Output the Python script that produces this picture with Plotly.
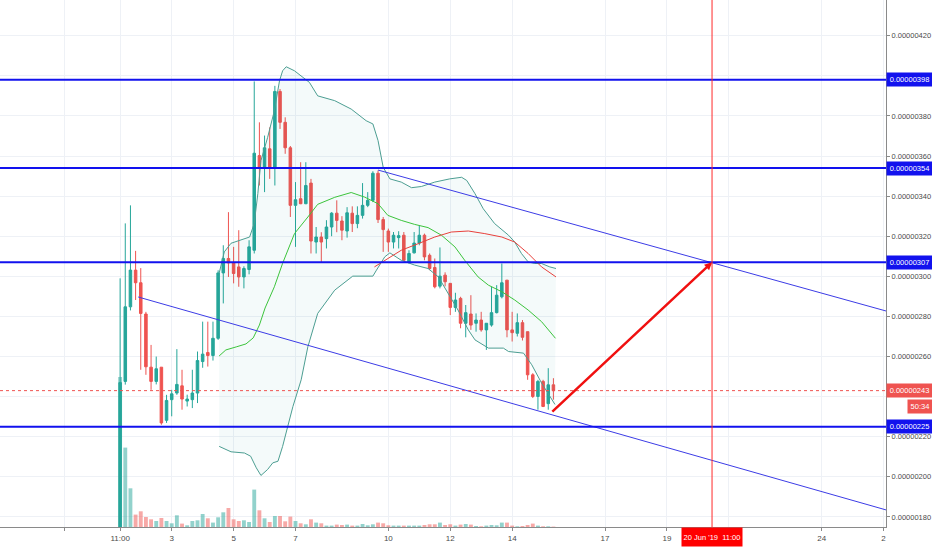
import plotly.graph_objects as go
import pandas as pd

# 4h candles, prices read in units of 1e-8
t0 = pd.Timestamp("2019-06-01 08:00")
sc = 1e-8

opens = [120, 247.6, 284.8, 303.1, 296.8, 281.2, 254.7, 247.6, 254.7, 228.2,
         238.5, 241.8, 245.4, 237.8, 238.5, 241.8, 257.5, 262, 260.5, 269.1,
         301.7, 308.9, 306.7, 304.7, 299.7, 303.4, 313, 360.2, 354.1, 363.6,
         354.1, 392.2, 376.8, 364.1, 335.4, 338.7, 336.2, 346.5, 317.1, 319.6,
         318.8, 324.6, 331.5, 327.6, 322.6, 331.5, 326.3, 330.4, 335.4, 337.9,
         351.4, 328.3, 322.6, 317.1, 319.3, 320.5, 307.2, 311.7, 316.6, 320.5,
         310.5, 304.4, 295.1, 300.6, 296.5, 284.5, 289, 276.6, 281.2, 276.6,
         278.2, 273.3, 275.7, 281.9, 289.8, 298.1, 273.3, 271.6, 276.9, 272.4,
         250.9, 240.1, 247.6, 236.5, 245.9]
highs = [299, 326.4, 335.4, 312.7, 304.1, 282.3, 265.8, 260, 254.7, 240.9,
         243.4, 263.7, 253.4, 241, 253.4, 262.5, 277.4, 277.4, 277.4, 303,
         315.5, 332, 314.7, 323, 305, 318, 397.2, 376.8, 370.2, 374.3,
         395, 393.4, 379.3, 365, 347, 356.9, 356.9, 348.6, 324.6, 322,
         328, 332, 337.9, 330, 334.5, 334.9, 334.9, 346.5, 342, 352.4,
         352.8, 329.6, 323.8, 322.1, 322.5, 322.1, 313, 322.1, 325.4, 321.3,
         311.4, 308.9, 314.4, 302, 296.5, 291.8, 289.8, 285.7, 290.6, 281.5,
         282.3, 276.6, 294.8, 295.6, 306.4, 298.1, 282.3, 281.5, 278.2, 272.4,
         251.7, 248.4, 248.4, 254.2, 249.2]
lows = [120, 246, 283, 288.2, 253.4, 250.9, 243.4, 246.1, 226, 226.9,
        230.2, 240.9, 233.5, 235.1, 234.3, 236.8, 254.4, 255, 258, 268.3,
        286.5, 299.7, 296.5, 294.8, 294, 301, 311.4, 345.3, 342, 348.6,
        345.3, 373.5, 361.1, 329.6, 314.7, 336, 336, 311.4, 311.4, 306.7,
        313.9, 320, 322, 318, 319.3, 322.1, 324, 328.8, 334.5, 337,
        326.6, 312.2, 312.2, 313.9, 313.9, 307.7, 306.4, 311.4, 315.5, 308,
        303.1, 294, 294, 295, 280.7, 282.3, 274.1, 269.6, 273.3, 272.4,
        272.4, 263.3, 274.9, 281.5, 289, 269.6, 267.5, 270, 268, 248.4,
        239.3, 233.5, 234.8, 233.5, 238.5]
closes = [247, 284.8, 303.1, 296.8, 281.5, 254.9, 247.6, 253.9, 226.9, 238.1,
          241.4, 246.1, 238.8, 238.8, 241.8, 258, 261.2, 260.5, 269.1, 301.7,
          308.9, 306.7, 301.4, 299.7, 303.9, 314.7, 361.4, 354.4, 364.1, 354.1,
          392.2, 376.8, 364.1, 335.4, 338.2, 336.2, 345.3, 317.6, 319.6, 317.1,
          324.6, 331.5, 327.9, 323, 331.7, 326.3, 330.4, 335.4, 337.9, 351.4,
          328.3, 323.3, 317.1, 320.5, 320.3, 308, 311.4, 316.6, 320.5, 309.7,
          303.9, 294.8, 300.1, 297.3, 284.5, 288.2, 276.6, 281.9, 275.7, 278.2,
          273.3, 276.6, 281.9, 290.6, 296.8, 273.3, 271.9, 276.9, 269.6, 250.9,
          240.1, 247.6, 235.1, 245.9, 243]
volumes = [150, 79.4, 38.7, 12.4, 15.7, 10, 7.7, 6, 9, 6,
           3.7, 11.7, 3.4, 1.7, 6, 6.7, 13, 8.7, 4.4, 9.7,
           14.7, 19, 7.7, 6, 6.7, 5, 37.4, 16.7, 8.7, 5,
           11, 11, 5.7, 10.4, 6, 3.7, 2.7, 7.7, 4.4, 3.7,
           1.4, 1.4, 2.4, 2, 2.4, 1.4, 1.4, 3, 1.7, 2.7,
           4.4, 3.7, 1.7, 1.4, 1.4, 1.4, 1.4, 1.4, 1.4, 2,
           2.7, 2.7, 4.4, 2, 2.7, 1.4, 2.4, 3, 2.4, 1,
           0.7, 1.4, 2, 1.7, 4.4, 4.4, 1.4, 0.7, 1, 2,
           3.4, 1.4, 0.7, 0.7, 0.4]

# bollinger bands / moving averages (bar number, price)
bb_up_bar = [20.2, 21.2, 22.5, 24.4, 26.1, 27, 27.7, 28.3, 29.6, 30.9, 31.9, 32.5, 33.2,
             34.8, 37.7, 39.3, 42.6, 45.8, 48.7, 50, 51, 52, 53.3, 55.5, 57.5, 59.4,
             62, 64.9, 67.2, 68.2, 69.8, 71.4, 73.6, 76.3, 77.5, 78.8, 80.1, 81.4,
             82.7, 84.3, 85.5]
bb_up_val = [301.6, 312.2, 316.5, 318, 319.6, 326.4, 341.3, 357.7, 369.3, 382.6, 397.5,
             402.5, 404.5, 402.5, 396.7, 390, 387.6, 383.4, 377.6, 376, 367.7, 354.4,
             348.6, 347, 344.2, 344.8, 347, 348.6, 349.4, 347.8, 341.2, 333.7, 326.3,
             320.5, 317.1, 311.4, 307.2, 306.4, 306.4, 304.7, 303.9]
bb_lo_bar = [20.2, 22.5, 25.1, 26.3, 27.4, 28.3, 29.6, 30.6, 31.6, 32.5, 33.5, 34.5,
             36.1, 37.4, 39.3, 42.6, 46.1, 50, 50.7, 52.3, 53.3, 55.5, 58.1, 60.7,
             62.7, 64.6, 66.5, 68.5, 69.8, 72.4, 75.3, 76.3, 79.2, 80.8, 82.7, 85.3]
bb_lo_val = [215.2, 212.5, 211.9, 210.3, 204.5, 200.7, 203.7, 207, 207.8, 215.2, 225.2,
             235.1, 248.4, 264.9, 281.5, 293.1, 300.1, 300.1, 303.1, 309.7, 311.7, 308,
             305.6, 303.9, 299.7, 291.5, 283.2, 273.3, 268.3, 264.2, 264.2, 262.5,
             261.7, 255.9, 246.8, 236.1]
basis_bar = [20.2, 21.5, 23.5, 25.4, 26.8, 28, 29.1, 30.9, 32.5, 34.8, 37.4, 39.3, 42.6,
             45.8, 48.4, 51, 52.9, 55.5, 58.1, 60.7, 63.3, 65.9, 67.8, 70.4, 72.4, 75,
             77.5, 80.1, 82.7, 85.4]
basis_val = [260.3, 263.3, 264.8, 266.3, 269.3, 275.7, 284.2, 294.8, 306.5, 321.3, 329.6,
             335.9, 339.4, 341.8, 339.5, 336.2, 330.4, 327.9, 325.9, 324.3, 320.5, 314.7,
             308, 299.7, 295.6, 292.3, 288.2, 283.2, 277.4, 269.1]
ma_bar = [50.3, 52.3, 55.5, 58.8, 62, 65.2, 68.5, 71.7, 75, 77.5, 80.1, 82.7, 85.5]
ma_val = [304.7, 308, 313, 316.3, 319.6, 322.1, 322.6, 321.3, 319.6, 317.1, 311.4, 304.7, 299.7]

levels = [398, 354, 307, 225]
last_price = 243
countdown = "50:34"

up_chan_t = ["2019-06-09 16:00", "2019-06-26 02:00"]
up_chan_p = [353.0, 282.7]
lo_chan_t = ["2019-06-01 22:00", "2019-06-26 02:00"]
lo_chan_p = [289.7, 183.5]
arrow_t = ["2019-06-15 06:00", "2019-06-20 11:00"]
arrow_p = [231.8, 307]
cursor_t = "2019-06-20 11:00"

tick_t = ["2019-05-30 12:30", "2019-06-01 08:00", "2019-06-03", "2019-06-05", "2019-06-07",
          "2019-06-10", "2019-06-12", "2019-06-14", "2019-06-17", "2019-06-19",
          "2019-06-21", "2019-06-24", "2019-06-26"]
tick_txt = ["", "11:00", "3", "5", "7", "10", "12", "14", "17", "19", "", "24", "2"]
price_ticks = list(range(180, 421, 20))
hidden_ticks = [240, 400]  # sit under the level labels


def bar_time(b):
    return [t0 + pd.Timedelta(hours=4 * (v - 1)) for v in b]


times = [t0 + pd.Timedelta(hours=4 * i) for i in range(len(opens))]
green, red = "#26a69a", "#ef5350"
vol_col = ["rgba(38,166,154,0.5)" if c >= o else "rgba(239,83,80,0.5)"
           for o, c in zip(opens, closes)]
fnt = "Liberation Sans"

fig = go.Figure()

fig.add_trace(go.Bar(x=times, y=volumes, marker_color=vol_col, marker_line_width=0,
                     width=4 * 3600 * 1000 * 0.75, yaxis="y2"))

# band fill
fx = bar_time(bb_up_bar) + bar_time(bb_lo_bar)[::-1]
fy = [v * sc for v in bb_up_val] + [v * sc for v in bb_lo_val][::-1]
fig.add_trace(go.Scatter(x=fx, y=fy, fill="toself", fillcolor="rgba(0,140,150,0.045)",
                         line=dict(width=0), mode="lines", hoverinfo="skip"))
for b, v, col in [(bb_up_bar, bb_up_val, "#4c9e92"), (bb_lo_bar, bb_lo_val, "#4c9e92"),
                  (basis_bar, basis_val, "#3cc43c"), (ma_bar, ma_val, "#e8413c")]:
    fig.add_trace(go.Scatter(x=bar_time(b), y=[p * sc for p in v], mode="lines",
                             line=dict(color=col, width=1)))

fig.add_trace(go.Candlestick(
    x=times, open=[p * sc for p in opens], high=[p * sc for p in highs],
    low=[p * sc for p in lows], close=[p * sc for p in closes],
    increasing=dict(line=dict(color=green, width=1), fillcolor=green),
    decreasing=dict(line=dict(color=red, width=1), fillcolor=red),
    whiskerwidth=0))

# channel
for t, p in [(up_chan_t, up_chan_p), (lo_chan_t, lo_chan_p)]:
    fig.add_trace(go.Scatter(x=t, y=[v * sc for v in p], mode="lines",
                             line=dict(color="#3c3ce6", width=1)))

# horizontal levels
lab = dict(color="white", size=7.5, family=fnt)
for v in levels:
    fig.add_shape(type="line", xref="paper", x0=0, x1=1, y0=v * sc, y1=v * sc,
                  line=dict(color="#1212ee", width=2))
    fig.add_annotation(xref="paper", x=1, xanchor="left", y=v * sc, text=f"{v * sc:.8f}",
                       showarrow=False, bgcolor="#1212ee", width=43, height=11, font=lab)

fig.add_shape(type="line", xref="paper", x0=0, x1=1, y0=last_price * sc, y1=last_price * sc,
              line=dict(color="#ef5350", width=1, dash="dot"))
fig.add_annotation(xref="paper", x=1, xanchor="left", y=last_price * sc,
                   text=f"{last_price * sc:.8f}", showarrow=False, bgcolor="#ef5350",
                   width=43, height=11, font=lab)
fig.add_annotation(xref="paper", x=1, xanchor="left", xshift=21, y=last_price * sc,
                   yshift=-16, text=countdown, showarrow=False, bgcolor="#ef5350",
                   width=22, height=11, font=lab)

# cursor line and date label
fig.add_shape(type="line", x0=cursor_t, x1=cursor_t, yref="paper", y0=0, y1=1,
              line=dict(color="#ff2a2a", width=1))
fig.add_annotation(x=cursor_t, yref="paper", y=0, yanchor="top", text="20 Jun '19  11:00",
                   showarrow=False, bgcolor="#ff0000", width=58, height=16,
                   font=dict(color="white", size=7.5, family=fnt))

# arrow
fig.add_annotation(x=arrow_t[1], y=arrow_p[1] * sc, ax=arrow_t[0], ay=arrow_p[0] * sc,
                   xref="x", yref="y", axref="x", ayref="y", text="", showarrow=True,
                   arrowhead=2, arrowsize=0.6, arrowwidth=2.5, arrowcolor="#f01010")

fig.update_layout(
    width=932, height=550, margin=dict(l=0, r=46, t=0, b=23),
    plot_bgcolor="white", paper_bgcolor="white", showlegend=False,
    font=dict(family=fnt, size=7.5, color="#4a4a4a"),
    xaxis=dict(range=["2019-05-28 10:51", "2019-06-26 01:54"], rangeslider_visible=False,
               tickvals=tick_t, ticktext=tick_txt, showgrid=True, gridcolor="#eef1f6",
               showline=True, linecolor="#8a8a8a", ticks="outside", ticklen=3,
               tickcolor="#8a8a8a", zeroline=False, tickfont_size=8),
    yaxis=dict(range=[175.0 * sc, 437.8 * sc], side="right",
               tickvals=[v * sc for v in price_ticks],
               ticktext=["" if v in hidden_ticks else f"{v * sc:.8f}" for v in price_ticks],
               showgrid=True, gridcolor="#eef1f6", showline=True, linecolor="#8a8a8a",
               ticks="outside", ticklen=3, tickcolor="#8a8a8a", zeroline=False),
    yaxis2=dict(overlaying="y", range=[0, 527], visible=False),
)

# drop the browser's default page margin so the chart fills the window
fig.write_html("out.html", config={"displayModeBar": False},
               post_script="document.body.style.margin='0';"
                           "document.body.style.overflow='hidden';")
